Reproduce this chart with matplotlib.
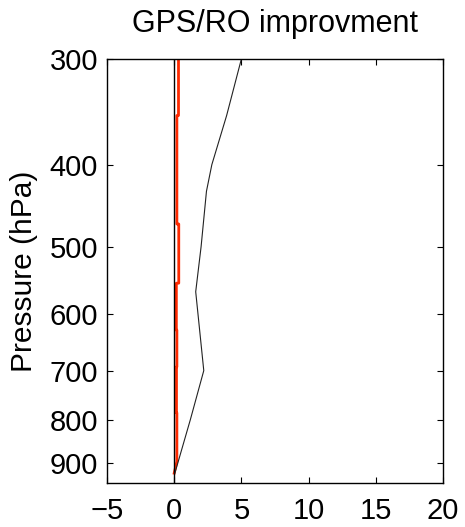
import matplotlib
matplotlib.use("Agg")
import matplotlib.pyplot as plt
from matplotlib.ticker import FixedLocator, FixedFormatter, NullLocator

plt.rcParams['font.family'] = ['Liberation Sans', 'DejaVu Sans']

# black profile (improvement vs pressure)
prof_p = [300, 350, 400, 430, 500, 565, 700, 800, 925]
prof_x = [5.0, 3.9, 2.8, 2.4, 2.0, 1.6, 2.2, 1.2, 0.05]

# red step profile
red_p = [300, 350, 350, 470, 470, 552, 552, 627, 627, 693, 693, 785, 785, 896, 925]
red_x = [0.32, 0.32, 0.2, 0.2, 0.34, 0.34, 0.16, 0.16, 0.2, 0.2, 0.17, 0.17, 0.2, 0.2, 0.0]

yticks = [300, 400, 500, 600, 700, 800, 900]
xticks = [-5, 0, 5, 10, 15, 20]

fig = plt.figure(figsize=(4.65, 5.27), dpi=100)
ax = fig.add_axes([0.230, 0.0835, 0.723, 0.805])

ax.plot(red_x, red_p, color='#ff2a00', lw=2.0)
ax.axvline(0, color='black', lw=1.0)
ax.plot(prof_x, prof_p, color='#222222', lw=0.8)

ax.set_yscale('log')
ax.set_ylim(950, 300)
ax.set_xlim(-5, 20)
ax.yaxis.set_major_locator(FixedLocator(yticks))
ax.yaxis.set_major_formatter(FixedFormatter([str(t) for t in yticks]))
ax.yaxis.set_minor_locator(NullLocator())
ax.set_xticks(xticks)
ax.set_xticklabels(['\u22125' if t < 0 else str(t) for t in xticks])

ax.tick_params(axis='both', direction='in', length=4, width=0.8,
               top=True, right=True, labelsize=21)
ax.tick_params(axis='y', pad=6.5)
ax.tick_params(axis='x', pad=10)
for s in ax.spines.values():
    s.set_linewidth(1.0)

ax.set_ylabel('Pressure (hPa)', fontsize=21.5, labelpad=8)
ax.set_title('GPS/RO improvment', fontsize=22, pad=19)

fig.savefig('out.png', dpi=100)
